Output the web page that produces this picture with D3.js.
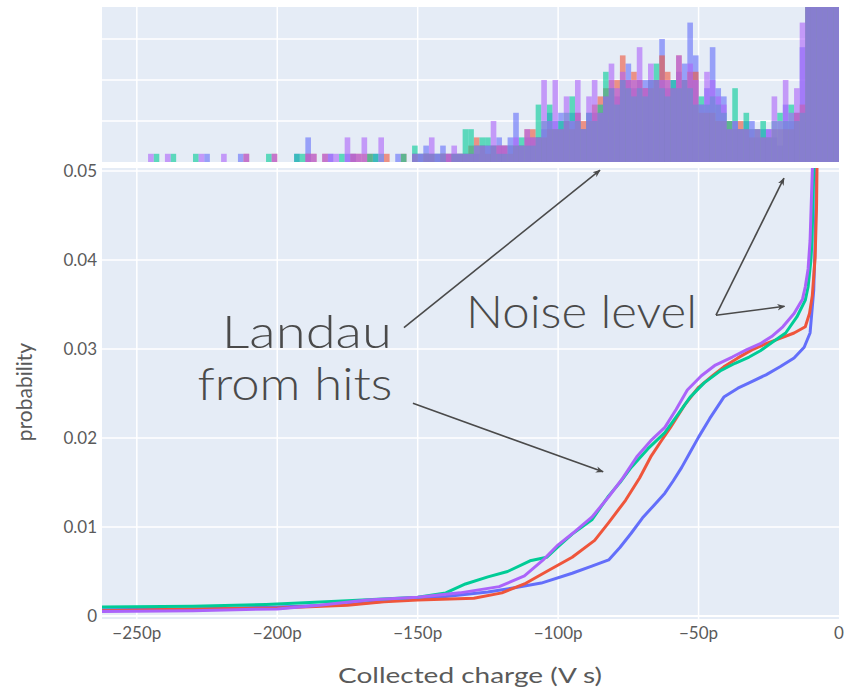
<!DOCTYPE html>
<html>
<head>
<meta charset="utf-8">
<script src="https://cdn.jsdelivr.net/npm/d3@7"></script>
<style>
  body { margin: 0; background: #fff; }
  svg text { font-family: Lato, "Noto Sans", sans-serif; }
</style>
</head>
<body>
<div id="chart"></div>
<script>
// series order: teal, red, blue, purple
var seriesNames = ["A", "B", "C", "D"];
var seriesColors = ["#00CC96", "#EF553B", "#636EFA", "#AB63FA"];

// histogram, bins of 2 (pV s) starting at binStart
var binStart = [-152,-150,-148,-146,-144,-142,-140,-138,-136,-134,-132,-130,-128,-126,-124,-122,-120,-118,-116,-114,
  -112,-110,-108,-106,-104,-102,-100,-98,-96,-94,-92,-90,-88,-86,-84,-82,-80,-78,-76,-74,
  -72,-70,-68,-66,-64,-62,-60,-58,-56,-54,-52,-50,-48,-46,-44,-42,-40,-38,-36,-34,
  -32,-30,-28,-26,-24,-22,-20,-18,-16,-14,-12,-10,-8,-6,-4,-2];
var histTeal = [2,1,1,1,1,1,0,1,1,4,4,2,3,3,2,1,1,2,2,3, 2,2,7,5,7,4,5,6,8,5,4,6,5,7,11,9,7,10,9,8,
  9,8,10,12,9,8,10,9,10,9,7,8,7,8,7,6,5,9,4,6, 4,4,5,3,5,6,5,7,5,6,30,60,90,90,80,60];
var histRed = [1,0,1,1,0,1,1,1,1,1,2,3,2,1,2,2,2,1,2,2, 4,4,3,3,4,4,4,5,4,6,5,5,7,8,9,10,10,13,10,11,
  10,9,9,10,13,11,9,13,10,11,11,6,6,6,5,5,5,4,5,4, 3,4,3,3,4,4,4,4,6,7,30,60,90,90,80,60];
var histBlue = [1,1,2,1,1,2,1,1,1,1,1,1,2,2,2,3,2,3,6,2, 3,3,3,4,6,5,6,5,6,6,4,6,6,6,8,9,8,10,12,9,
  10,10,10,10,15,9,10,11,12,17,13,7,9,14,9,8,4,5,4,5, 5,3,4,4,3,2,7,5,6,14,30,60,90,90,80,60];
var histPurple = [1,1,1,3,1,1,1,2,1,1,1,2,2,2,5,2,2,2,3,2, 4,3,3,10,5,10,4,8,5,10,4,8,10,6,8,12,9,11,10,10,
  14,9,12,10,10,10,9,13,10,12,10,7,11,10,8,7,4,5,4,4, 4,4,3,4,8,5,10,6,9,17,30,60,90,90,80,60];

// sparse tail of the histogram: [binStart, count]
var tailTeal = [[-244,1],[-238,1],[-230,1],[-204,1],[-194,1],[-192,1],[-178,1],[-168,1],[-166,1],[-164,1],[-156,1]];
var tailRed = [[-212,1],[-202,1],[-190,1],[-188,1],[-184,1],[-174,1],[-172,1],[-170,1],[-168,1],[-162,1],[-156,1]];
var tailBlue = [[-226,1],[-214,1],[-194,1],[-190,3],[-182,1],[-176,1],[-174,1],[-166,1],[-158,1]];
var tailPurple = [[-246,1],[-240,1],[-228,1],[-220,1],[-212,1],[-202,1],[-190,1],[-188,1],[-184,1],[-182,1],[-180,1],
  [-176,3],[-174,1],[-172,1],[-170,3],[-164,3]];

// cumulative probability curves: [charge (pV s), probability]
var cdfTeal = [[-262.4,0.0010],[-230,0.0011],[-204,0.0013],[-175,0.0017],[-150,0.0021],[-140,0.0026],[-133,0.0036],
  [-125,0.0044],[-118,0.0050],[-110,0.0062],[-104,0.0066],[-100,0.0078],[-95,0.0092],[-88,0.0108],[-82,0.0135],
  [-78,0.0150],[-74,0.0167],[-68,0.0188],[-62,0.0206],[-57,0.0228],[-53,0.0246],[-48,0.0262],[-42,0.0276],
  [-37,0.0284],[-32,0.0291],[-28,0.0298],[-24,0.0307],[-19,0.0318],[-15,0.0336],[-12,0.0355],[-11,0.0370],
  [-10,0.0400],[-9.6,0.0422],[-9,0.0500],[-8,0.0600]];
var cdfRed = [[-262.4,0.0006],[-230,0.0008],[-200,0.0009],[-175,0.0012],[-162,0.0016],[-150,0.0018],[-130,0.0020],
  [-120,0.0026],[-112,0.0036],[-103,0.0052],[-95,0.0066],[-87,0.0085],[-82,0.0105],[-76,0.0130],[-71,0.0155],
  [-67,0.0179],[-63,0.0198],[-60,0.0212],[-55,0.0237],[-50,0.0257],[-45,0.0270],[-41,0.0280],[-36,0.0290],
  [-31,0.0299],[-26,0.0306],[-21,0.0312],[-16,0.0318],[-12,0.0325],[-10.5,0.0340],[-9.5,0.0360],[-8.5,0.0403],
  [-8,0.0460],[-7.5,0.0600]];
var cdfBlue = [[-262.4,0.0007],[-230,0.0008],[-200,0.0010],[-175,0.0013],[-157,0.0018],[-140,0.0022],[-125,0.0027],
  [-115,0.0032],[-106,0.0037],[-95,0.0048],[-88,0.0056],[-82,0.0063],[-78,0.0077],[-74,0.0093],[-70,0.0110],
  [-66,0.0124],[-62,0.0138],[-59,0.0152],[-56,0.0167],[-53,0.0184],[-50,0.0201],[-46,0.0222],[-41,0.0246],
  [-36,0.0256],[-32,0.0262],[-26,0.0271],[-21,0.0280],[-16,0.0290],[-12.4,0.0302],[-10.3,0.0318],[-9,0.0366],
  [-8.5,0.0420],[-8,0.0500],[-7.5,0.0600]];
var cdfPurple = [[-262.4,0.0005],[-230,0.0006],[-200,0.0008],[-185,0.0012],[-168,0.0018],[-150,0.0021],[-135,0.0026],
  [-121,0.0033],[-112,0.0045],[-105,0.0064],[-100,0.0080],[-94,0.0095],[-88,0.0111],[-82,0.0134],[-77,0.0155],
  [-72,0.0179],[-67,0.0197],[-62,0.0212],[-58,0.0232],[-54,0.0254],[-49,0.0270],[-44,0.0282],[-38,0.0291],
  [-33,0.0299],[-28,0.0306],[-24,0.0314],[-20,0.0325],[-16,0.0340],[-13,0.0356],[-12,0.0370],[-11,0.0390],
  [-10.3,0.0422],[-9.5,0.0500],[-8.5,0.0600]];

var xTicks = [-250, -200, -150, -100, -50, 0];
var xTickLabels = ["\u2212250p", "\u2212200p", "\u2212150p", "\u2212100p", "\u221250p", "0"];
var yTicks = [0, 0.01, 0.02, 0.03, 0.04, 0.05];
var yTickLabels = ["0", "0.01", "0.02", "0.03", "0.04", "0.05"];
var histGrid = [5, 10, 15];

var width = 845, height = 692;
var bg = "#E5ECF6";
var textColor = "#5a5a5a";
var annColor = "#4a4a4a";

var svg = d3.select("#chart").append("svg")
    .attr("width", width)
    .attr("height", height);

var x = d3.scaleLinear().domain([-262.4, 0]).range([102, 839]);
var yHist = d3.scaleLinear().domain([0, 18.9]).range([162, 7]);
var y = d3.scaleLinear().domain([-0.000337, 0.05034]).range([619, 168]);

// panels
svg.append("rect").attr("x", 102).attr("y", 7).attr("width", 737).attr("height", 155).attr("fill", bg);
svg.append("rect").attr("x", 102).attr("y", 168).attr("width", 737).attr("height", 451).attr("fill", bg);

var defs = svg.append("defs");
defs.append("clipPath").attr("id", "clipTop")
    .append("rect").attr("x", 102).attr("y", 7).attr("width", 737).attr("height", 155);
defs.append("clipPath").attr("id", "clipBottom")
    .append("rect").attr("x", 102).attr("y", 168).attr("width", 737).attr("height", 451);
defs.append("marker")
    .attr("id", "arrow")
    .attr("viewBox", "0 0 10 10")
    .attr("refX", 9).attr("refY", 5)
    .attr("markerWidth", 8).attr("markerHeight", 8)
    .attr("markerUnits", "userSpaceOnUse")
    .attr("orient", "auto")
    .append("path")
    .attr("d", "M0,1 L10,5 L0,9 L3,5 Z")
    .attr("fill", annColor);

// grid
var grid = svg.append("g");
xTicks.forEach(t => {
    if (t === 0) return;
    grid.append("line").attr("x1", x(t)).attr("x2", x(t)).attr("y1", 7).attr("y2", 162)
        .attr("stroke", "#fff").attr("stroke-width", 1.5);
    grid.append("line").attr("x1", x(t)).attr("x2", x(t)).attr("y1", 168).attr("y2", 619)
        .attr("stroke", "#fff").attr("stroke-width", 1.5);
});
histGrid.forEach(t => {
    grid.append("line").attr("x1", 102).attr("x2", 839).attr("y1", yHist(t)).attr("y2", yHist(t))
        .attr("stroke", "#fff").attr("stroke-width", 1.5);
});
yTicks.forEach(t => {
    grid.append("line").attr("x1", 102).attr("x2", 839).attr("y1", y(t)).attr("y2", y(t))
        .attr("stroke", "#fff").attr("stroke-width", t === 0 ? 2 : 1.5);
});

// histograms (overlay)
var hists = [histTeal, histRed, histBlue, histPurple];
var tails = [tailTeal, tailRed, tailBlue, tailPurple];
var histG = svg.append("g").attr("clip-path", "url(#clipTop)");
[2, 1, 0, 3].forEach(si => {
    var bins = binStart.map((b, i) => [b, hists[si][i]]).concat(tails[si]).filter(d => d[1] > 0);
    histG.append("g").selectAll("rect")
        .data(bins)
        .enter()
        .append("rect")
        .attr("x", d => x(d[0]))
        .attr("width", d => x(d[0] + 2) - x(d[0]))
        .attr("y", d => yHist(d[1]))
        .attr("height", d => yHist(0) - yHist(d[1]))
        .attr("fill", seriesColors[si])
        .attr("fill-opacity", 0.6);
});

// cumulative lines
var cdfs = [cdfTeal, cdfRed, cdfBlue, cdfPurple];
var line = d3.line().x(d => x(d[0])).y(d => y(d[1]));
var lineG = svg.append("g").attr("clip-path", "url(#clipBottom)");
[2, 1, 0, 3].forEach(si => {
    lineG.append("path")
        .datum(cdfs[si])
        .attr("d", line)
        .attr("fill", "none")
        .attr("stroke", seriesColors[si])
        .attr("stroke-width", 3)
        .attr("stroke-linejoin", "round");
});

// axes labels
var xAxis = svg.append("g");
xTicks.forEach((t, i) => {
    xAxis.append("text")
        .attr("x", x(t)).attr("y", 639)
        .attr("text-anchor", "middle")
        .attr("font-size", 17)
        .attr("fill", textColor)
        .text(xTickLabels[i]);
});
var yAxis = svg.append("g");
yTicks.forEach((t, i) => {
    yAxis.append("text")
        .attr("x", 97).attr("y", y(t) + 6)
        .attr("text-anchor", "end")
        .attr("font-size", 17)
        .attr("fill", textColor)
        .text(yTickLabels[i]);
});
svg.append("text")
    .attr("x", 470).attr("y", 683)
    .attr("text-anchor", "middle")
    .attr("font-size", 21)
    .attr("fill", textColor)
    .attr("textLength", 264)
    .attr("lengthAdjust", "spacingAndGlyphs")
    .text("Collected charge (V s)");
svg.append("text")
    .attr("transform", "translate(32,392) rotate(-90)")
    .attr("text-anchor", "middle")
    .attr("font-size", 21)
    .attr("fill", textColor)
    .text("probability");

// annotations
var ann = svg.append("g");
function arrow(x0, y0, x1, y1) {
    ann.append("line")
        .attr("x1", x(x0)).attr("y1", y(y0))
        .attr("x2", x(x1)).attr("y2", y(y1))
        .attr("stroke", annColor)
        .attr("stroke-width", 1.6)
        .attr("marker-end", "url(#arrow)");
}
arrow(-154.9, 0.0324, -85.1, 0.0501);
arrow(-151.7, 0.0239, -84.0, 0.0162);
arrow(-43.8, 0.0338, -19.4, 0.0348);
arrow(-43.8, 0.0338, -19.6, 0.0492);

function label(txt, vx, vy, anchor, len) {
    ann.append("text")
        .attr("x", x(vx)).attr("y", y(vy))
        .attr("text-anchor", anchor)
        .attr("font-size", 45)
        .attr("font-weight", 300)
        .attr("fill", annColor)
        .attr("textLength", len)
        .attr("lengthAdjust", "spacingAndGlyphs")
        .text(txt);
}
label("Landau", -159.2, 0.0301, "end", 170);
label("from hits", -159.0, 0.0243, "end", 195);
label("Noise level", -132.8, 0.0324, "start", 231);
</script>
</body>
</html>
